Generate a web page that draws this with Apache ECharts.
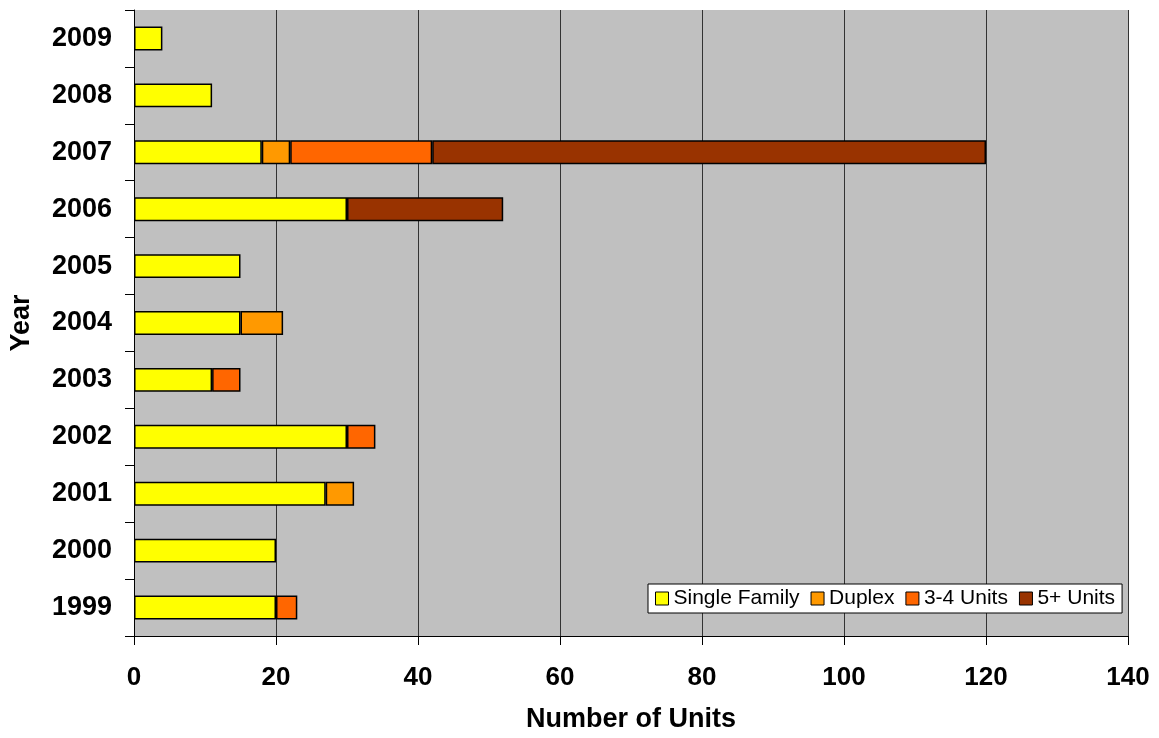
<!DOCTYPE html>
<html><head><meta charset="utf-8">
<script src="https://cdn.jsdelivr.net/npm/echarts@6/dist/echarts.min.js"></script>
<style>html,body{margin:0;padding:0;background:#fff}#c{width:1159px;height:738px}</style>
</head><body><div id="c"></div>
<script>
const years = ['1999','2000','2001','2002','2003','2004','2005','2006','2007','2008','2009'];
const singleFamily = [20, 20, 27, 30, 11, 15, 15, 30, 18, 11, 4];
const duplex       = [0, 0, 4, 0, 0, 6, 0, 0, 4, 0, 0];
const units34      = [3, 0, 0, 4, 4, 0, 0, 0, 20, 0, 0];
const units5plus   = [0, 0, 0, 0, 0, 0, 0, 22, 78, 0, 0];
const xTicks = [0, 20, 40, 60, 80, 100, 120, 140];

const font = 'Liberation Sans, Arial, sans-serif';
const chart = echarts.init(document.getElementById('c'));
function s(name, data, color) {
  return {
    name, type: 'bar', stack: 'total', data: data.map(v => v === 0 ? null : v),
    barWidth: '42%',
    itemStyle: { color, borderColor: '#000', borderWidth: 1.5 },
    emphasis: { disabled: true }
  };
}
chart.setOption({
  animation: false,
  grid: { left: 134, right: 31, top: 10, bottom: 102, containLabel: false, outerBoundsMode: 'none',
          show: true, backgroundColor: '#C0C0C0', borderWidth: 0 },
  legend: {
    left: 648, top: 584, orient: 'horizontal',
    backgroundColor: '#fff', borderColor: '#000', borderWidth: 1,
    padding: [4, 7, 4, 7], itemGap: 11,
    itemWidth: 13, itemHeight: 13, icon: 'rect',
    textStyle: { fontFamily: font, fontSize: 21, color: '#000', padding: [0, 0, 0, 0] },
    itemStyle: { borderColor: '#000', borderWidth: 1 },
    data: ['Single Family', 'Duplex', '3-4 Units', '5+ Units']
  },
  xAxis: {
    type: 'value', min: 0, max: 140, interval: 20,
    name: 'Number of Units', nameLocation: 'middle', nameGap: 70,
    nameTextStyle: { fontFamily: font, fontSize: 27, fontWeight: 'bold', color: '#000' },
    axisLine: { show: true, lineStyle: { color: '#000', width: 1 } },
    axisTick: { show: true, length: 9, lineStyle: { color: '#000' } },
    axisLabel: { fontFamily: font, fontSize: 26, fontWeight: 'bold', color: '#000', margin: 29,
                 formatter: v => xTicks.includes(v) ? String(v) : '' },
    splitLine: { show: true, lineStyle: { color: '#333', width: 1 } }
  },
  yAxis: {
    type: 'category', data: years,
    name: 'Year', nameLocation: 'middle', nameGap: 99, nameRotate: 90,
    nameTextStyle: { fontFamily: font, fontSize: 27, fontWeight: 'bold', color: '#000' },
    axisLine: { show: true, lineStyle: { color: '#000', width: 1 } },
    axisTick: { show: true, length: 9, inside: false, lineStyle: { color: '#000' } },
    axisLabel: { fontFamily: font, fontSize: 27, fontWeight: 'bold', color: '#000', margin: 22 },
    splitLine: { show: false }
  },
  series: [
    s('Single Family', singleFamily, '#FFFF00'),
    s('Duplex', duplex, '#FF9900'),
    s('3-4 Units', units34, '#FF6600'),
    s('5+ Units', units5plus, '#993300')
  ]
});
</script></body></html>
